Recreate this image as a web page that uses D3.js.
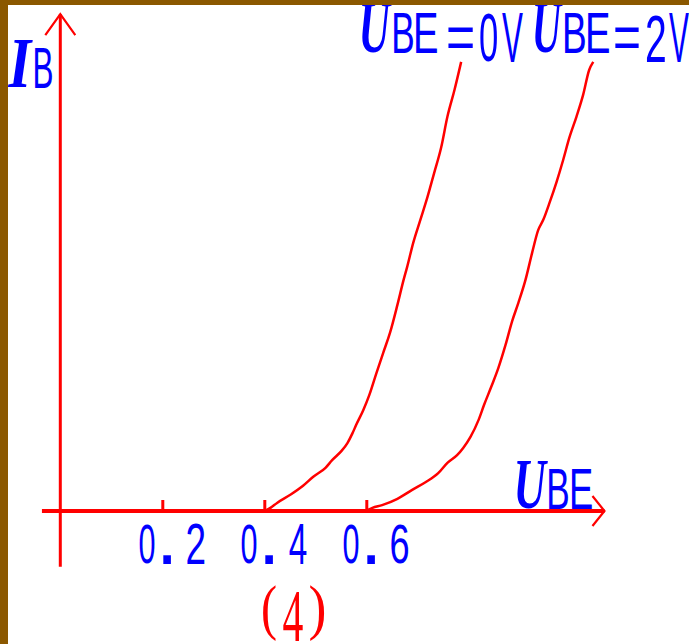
<!DOCTYPE html>
<html>
<head>
<meta charset="utf-8">
<script src="https://cdn.jsdelivr.net/npm/d3@7"></script>
<style>
html,body{margin:0;padding:0;background:#fff;}
svg{display:block;}
</style>
</head>
<body>
<svg id="chart" width="689" height="644"></svg>
<script>
// ---- data (UBE in volts, IB in arbitrary units 0..100) ----
const xTicks = [0.2, 0.4, 0.6];
const xTickLabels = ["0.2", "0.4", "0.6"];
const curve0V_U = [0.404,0.412,0.425,0.451,0.476,0.496,0.520,0.533,0.551,0.563,0.573,0.580,0.594,0.606,0.620,0.633,0.647,0.661,0.673,0.680,0.692,0.706,0.720,0.733,0.747,0.759,0.773,0.786];
const curve0V_I = [0.2,0.7,1.8,3.6,5.6,7.6,9.6,11.3,13.3,15.1,17.3,19.1,22.4,25.8,30.7,35.1,39.8,45.8,51.3,54.2,59.6,64.7,69.8,75.1,80.9,87.6,93.6,99.8];
const curve2V_U = [0.602,0.612,0.631,0.661,0.690,0.716,0.741,0.759,0.778,0.790,0.804,0.820,0.831,0.845,0.859,0.873,0.886,0.898,0.912,0.925,0.937,0.947,0.959,0.973,0.986,0.998,1.012,1.025,1.037,1.045];
const curve2V_I = [0.2,0.7,1.3,2.7,4.7,6.4,8.4,10.7,12.4,14.0,16.4,20.2,23.6,27.6,31.8,36.9,42.2,46.2,51.3,57.3,62.4,64.7,68.4,73.1,78.0,82.9,87.6,92.4,98.0,99.8];
const seriesNames = ["U", "BE", "=0V", "U", "BE", "=2V"];
const xTitle = ["U", "BE"];
const yTitle = ["I", "B"];
const caption = "(4)";

const RED = "#ff0000", BLUE = "#0000ff", BROWN = "#8b5800";
const SERIF = "Liberation Serif", SANS = "Liberation Sans";

const svg = d3.select("#chart");
const x = d3.scaleLinear().domain([0, 1]).range([60.3, 570.3]);
const y = d3.scaleLinear().domain([0, 100]).range([511, 61]);

svg.append("rect").attr("x",0).attr("y",0).attr("width",689).attr("height",644).attr("fill","#fff");

// x axis (ticks pointing up)
const xAxis = d3.axisBottom(x).tickValues(xTicks).tickSizeInner(-11).tickSizeOuter(0).tickFormat("");
const gx = svg.append("g").attr("transform", `translate(0,${y(0)})`).call(xAxis);
gx.select(".domain").remove();
gx.selectAll(".tick line").attr("stroke", RED).attr("stroke-width", 3);

svg.append("line").attr("x1", x(-0.036)).attr("x2", x(1.067)).attr("y1", y(0)).attr("y2", y(0))
  .attr("stroke", RED).attr("stroke-width", 4);
const xe = x(1.067), ye = y(0);
svg.append("path").attr("d", `M${xe-12},${ye-15} L${xe},${ye} L${xe-12},${ye+15}`)
  .attr("fill","none").attr("stroke",RED).attr("stroke-width",2.2);

// y axis
svg.append("line").attr("x1", x(0)).attr("x2", x(0)).attr("y1", y(-12.4)).attr("y2", y(110.4))
  .attr("stroke", RED).attr("stroke-width", 3);
const yx = x(0), yt = y(110.4);
svg.append("path").attr("d", `M${yx-15},${yt+21} L${yx},${yt} L${yx+15},${yt+21}`)
  .attr("fill","none").attr("stroke",RED).attr("stroke-width",2.2);

// curves
const line = d3.line().x(d => x(d[0])).y(d => y(d[1])).curve(d3.curveMonotoneX);
const c1 = curve0V_U.map((u,i) => [u, curve0V_I[i]]);
const c2 = curve2V_U.map((u,i) => [u, curve2V_I[i]]);
[c1, c2].forEach(c => {
  svg.append("path").datum(c).attr("d", line).attr("fill","none").attr("stroke",RED).attr("stroke-width",2.5);
});

// text fitted to an ink box [x0,x1,y0,y1], measured with canvas
const ctx = document.createElement("canvas").getContext("2d");
function fit(str, fam, weight, style, box, fill) {
  ctx.font = `${style} ${weight} 100px "${fam}"`;
  const m = ctx.measureText(str);
  const w = m.actualBoundingBoxLeft + m.actualBoundingBoxRight;
  const h = m.actualBoundingBoxAscent + m.actualBoundingBoxDescent;
  const sx = (box[1]-box[0]) / w, sy = (box[3]-box[2]) / h;
  const ox = box[0] + sx * m.actualBoundingBoxLeft;
  const oy = box[3] - sy * m.actualBoundingBoxDescent;
  svg.append("text")
    .attr("transform", `translate(${ox},${oy}) scale(${sx},${sy})`)
    .attr("font-family", fam).attr("font-size", 100)
    .attr("font-weight", weight).attr("font-style", style)
    .attr("fill", fill).text(str);
}
function fitChars(str, fam, boxes, fill) {
  [...str].forEach((ch, i) => fit(ch, fam, "normal", "normal", boxes[i], fill));
}

// tick labels (character boxes relative to tick position)
xTicks.forEach((v, i) => {
  const t = x(v);
  fitChars(xTickLabels[i], SANS, [
    [t-23, t-8, 524, 564],
    [t+1, t+9, 555, 564],
    [t+25, t+42, 524, 564]
  ], BLUE);
});

// y title
fit(yTitle[0], SERIF, "bold", "italic", [8, 33, 40, 88], BLUE);
fitChars(yTitle[1], SANS, [[35, 52, 49, 88]], BLUE);

// x title
fit(xTitle[0], SERIF, "bold", "italic", [517, 548, 462, 509], BLUE);
fitChars(xTitle[1], SANS, [[549, 568, 470, 509], [572, 592, 470, 509]], BLUE);

// series labels
fit(seriesNames[0], SERIF, "bold", "italic", [362, 392, 4, 53], BLUE);
fitChars(seriesNames[1], SANS, [[394, 413, 13, 53], [416, 437, 13, 53]], BLUE);
fitChars(seriesNames[2], SANS, [[448, 473, 27, 48], [480, 497, 13, 62], [502, 523, 13, 62]], BLUE);
fit(seriesNames[3], SERIF, "bold", "italic", [535, 563, 4, 53], BLUE);
fitChars(seriesNames[4], SANS, [[565, 585, 13, 53], [588, 609, 13, 53]], BLUE);
fitChars(seriesNames[5], SANS, [[615, 639, 27, 48], [647, 665, 15, 62], [669, 689, 13, 62]], BLUE);

// caption
fitChars(caption, SERIF, [[263, 276, 585, 642], [283, 303, 593, 642], [310, 324, 585, 642]], RED);

// frame (drawn last)
svg.append("rect").attr("x",0).attr("y",0).attr("width",8).attr("height",644).attr("fill",BROWN);
svg.append("rect").attr("x",0).attr("y",0).attr("width",689).attr("height",5).attr("fill",BROWN);
</script>
</body>
</html>
